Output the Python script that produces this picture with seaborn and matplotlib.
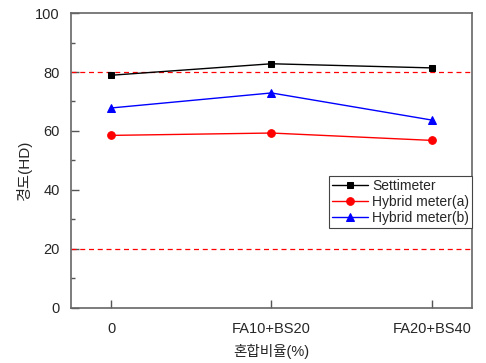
import pandas as pd
import seaborn as sns
import matplotlib.pyplot as plt

# data
categories = ["0", "FA10+BS20", "FA20+BS40"]
settimeter = [78.9, 82.8, 81.4]
hybrid_a = [58.5, 59.3, 56.8]
hybrid_b = [67.8, 72.9, 63.7]
ref_lines = [80, 20]

sns.set_style("white")
plt.rcParams['font.family'] = ['Liberation Sans', 'Noto Sans CJK KR', 'DejaVu Sans']
plt.rcParams['font.size'] = 10.5

pos = list(range(len(categories)))
df = pd.DataFrame({
    "x": pos * 3,
    "y": settimeter + hybrid_a + hybrid_b,
    "series": ["Settimeter"] * 3 + ["Hybrid meter(a)"] * 3 + ["Hybrid meter(b)"] * 3,
})

fig, ax = plt.subplots(figsize=(4.86, 3.63), dpi=100)
fig.subplots_adjust(left=0.146, right=0.971, top=0.964, bottom=0.152)

for yv in ref_lines:
    ax.axhline(yv, color="red", ls=(0, (4, 3)), lw=0.9, zorder=1)

styles = {
    "Settimeter": ("black", "s", 5),
    "Hybrid meter(a)": ("red", "o", 5.5),
    "Hybrid meter(b)": ("blue", "^", 6),
}
for name, (col, mk, ms) in styles.items():
    sub = df[df["series"] == name]
    sns.lineplot(data=sub, x="x", y="y", ax=ax, color=col, marker=mk,
                 markersize=ms, markeredgecolor=col, lw=1, label=name, zorder=3)

ax.set_xlim(-0.25, 2.25)
ax.set_ylim(0, 100)
ax.set_xticks(pos)
ax.set_xticklabels(categories)
ax.set_yticks(range(0, 101, 20))
ax.set_yticks(range(10, 100, 20), minor=True)
ax.tick_params(axis="both", which="major", direction="in", length=6, width=1,
               color="#555555", pad=8, labelsize=10.5, left=True, bottom=True)
ax.tick_params(axis="y", which="minor", direction="in", length=3, width=1,
               color="#555555", left=True)
ax.tick_params(axis="x", which="major", pad=10)
for sp in ax.spines.values():
    sp.set_color("#666666")
    sp.set_linewidth(1.2)

ax.set_xlabel("혼합비율(%)", fontsize=10.5, labelpad=6)
ax.set_ylabel("경도(HD)", fontsize=11)
ax.yaxis.set_label_coords(-0.097, 0.464)

leg = ax.legend(loc="upper right", bbox_to_anchor=(1.0, 0.447), borderaxespad=0,
                fancybox=False, edgecolor="#444444", framealpha=1, fontsize=10,
                handlelength=2.6, handletextpad=0.3, borderpad=0.2, labelspacing=0.15)
leg.get_frame().set_linewidth(0.8)

plt.savefig("out.png", dpi=100)
